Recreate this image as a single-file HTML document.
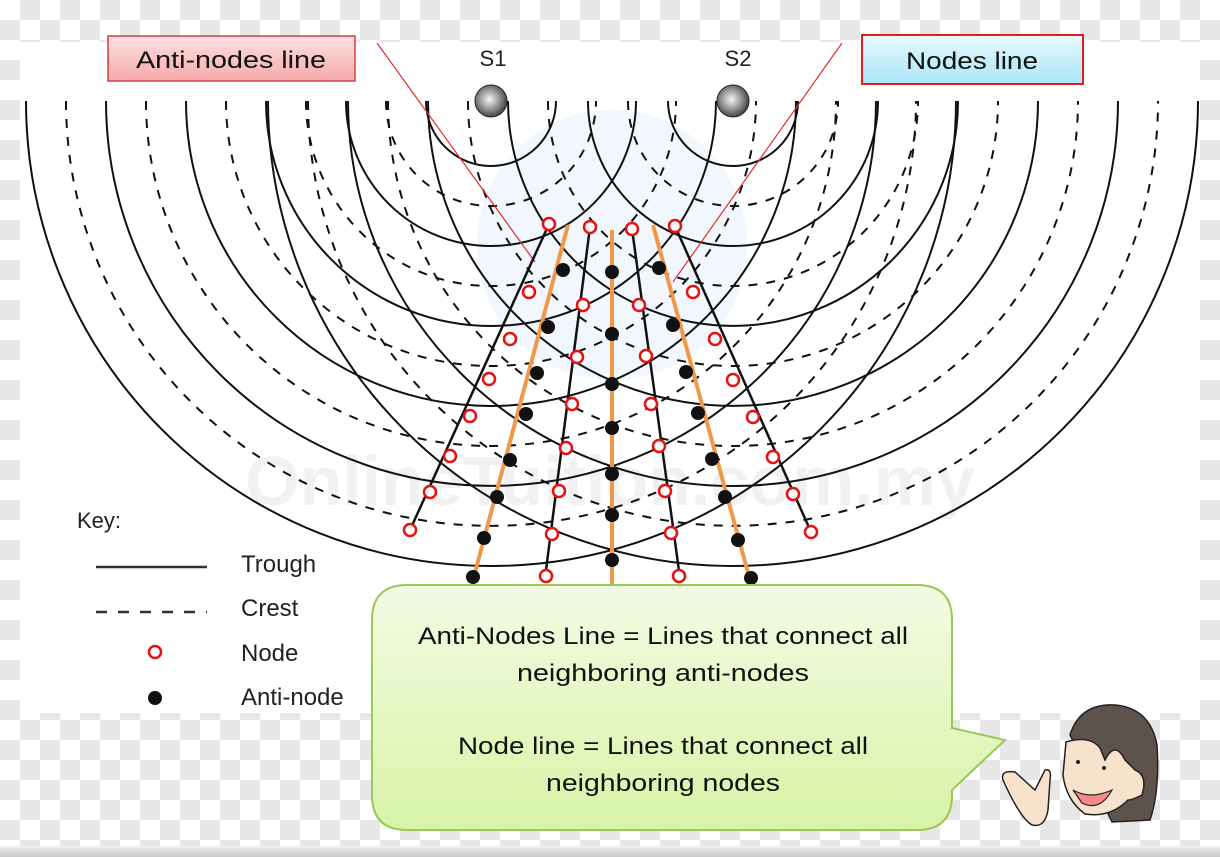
<!DOCTYPE html>
<html><head><meta charset="utf-8"><style>
html,body{margin:0;padding:0;width:1220px;height:857px;overflow:hidden;}
body{background-color:#fff;background-image:conic-gradient(#e6e7e6 25%,#fff 0 50%,#e6e7e6 0 75%,#fff 0);background-size:40px 40px;}
svg{position:absolute;left:0;top:0;}
</style></head><body>
<svg width="1220" height="857" viewBox="0 0 1220 857" xmlns="http://www.w3.org/2000/svg" font-family="Liberation Sans, sans-serif">
<defs>
<linearGradient id="pk" x1="0" y1="0" x2="0" y2="1"><stop offset="0" stop-color="#fde2e2"/><stop offset="1" stop-color="#f6a9a9"/></linearGradient>
<linearGradient id="cy" x1="0" y1="0" x2="0" y2="1"><stop offset="0" stop-color="#e8f9fd"/><stop offset="1" stop-color="#a9e6f8"/></linearGradient>
<linearGradient id="gr" x1="0" y1="0" x2="0" y2="1"><stop offset="0" stop-color="#f3fbe4"/><stop offset="1" stop-color="#d8f3a6"/></linearGradient>
<radialGradient id="ball" cx="0.45" cy="0.45" r="0.6"><stop offset="0" stop-color="#f4f4f4"/><stop offset="0.5" stop-color="#999"/><stop offset="1" stop-color="#333"/></radialGradient>
<linearGradient id="bot" x1="0" y1="0" x2="0" y2="1"><stop offset="0" stop-color="#f0f0f0"/><stop offset="1" stop-color="#c8c8c8"/></linearGradient>
</defs>
<rect x="20" y="42" width="1180" height="671" fill="#fff"/>
<rect x="0" y="846" width="1220" height="11" fill="url(#bot)"/>
<circle cx="612" cy="245" r="135" fill="#eef5fb" opacity="0.8"/>
<text x="610" y="505" font-size="70" fill="#f1f1f1" text-anchor="middle" font-weight="bold">OnlineTuition.com.my</text>
<g fill="none" stroke="#111" stroke-width="2">
<!-- S1 solid -->
<path d="M426,101A65,65 0 0 0 556,101M346,101A145,145 0 0 0 636,101M266,101A225,225 0 0 0 716,101M186,101A305,305 0 0 0 796,101M106,101A385,385 0 0 0 876,101M26,101A465,465 0 0 0 956,101"/>
<!-- S2 solid -->
<path d="M668,101A65,65 0 0 0 798,101M588,101A145,145 0 0 0 878,101M508,101A225,225 0 0 0 958,101M428,101A305,305 0 0 0 1038,101M348,101A385,385 0 0 0 1118,101M268,101A465,465 0 0 0 1198,101"/>
<g stroke-dasharray="9 9">
<path d="M386,101A105,105 0 0 0 596,101M306,101A185,185 0 0 0 676,101M226,101A265,265 0 0 0 756,101M146,101A345,345 0 0 0 836,101M66,101A425,425 0 0 0 916,101"/>
<path d="M628,101A105,105 0 0 0 838,101M548,101A185,185 0 0 0 918,101M468,101A265,265 0 0 0 998,101M388,101A345,345 0 0 0 1078,101M308,101A425,425 0 0 0 1158,101"/>
</g>
</g>
<!-- red pointer lines -->
<line x1="377" y1="43" x2="535" y2="262" stroke="#e03030" stroke-width="1.2"/>
<line x1="842" y1="43" x2="673" y2="282" stroke="#e03030" stroke-width="1.2"/>
<!-- node lines -->
<g stroke="#111" stroke-width="2.5">
<line x1="549" y1="224" x2="410" y2="530"/>
<line x1="590" y1="227" x2="545" y2="578"/>
<line x1="632" y1="229" x2="680" y2="578"/>
<line x1="675" y1="226" x2="811" y2="532"/>
</g>
<g stroke="#f0984a" stroke-width="4">
<line x1="568" y1="225" x2="473" y2="580"/>
<line x1="612" y1="230" x2="612" y2="586"/>
<line x1="653" y1="225" x2="750" y2="580"/>
</g>
<!-- anti-nodes -->
<g fill="#111">
<circle cx="563" cy="270" r="7"/><circle cx="548" cy="327" r="7"/><circle cx="537" cy="373" r="7"/><circle cx="526" cy="414" r="7"/><circle cx="510" cy="460" r="7"/><circle cx="497" cy="497" r="7"/><circle cx="484" cy="538" r="7"/><circle cx="473" cy="577" r="7"/>
<circle cx="612" cy="272" r="7"/><circle cx="612" cy="334" r="7"/><circle cx="612" cy="384" r="7"/><circle cx="612" cy="428" r="7"/><circle cx="612" cy="474" r="7"/><circle cx="612" cy="515" r="7"/><circle cx="612" cy="560" r="7"/>
<circle cx="659" cy="268" r="7"/><circle cx="673" cy="325" r="7"/><circle cx="686" cy="372" r="7"/><circle cx="698" cy="413" r="7"/><circle cx="712" cy="459" r="7"/><circle cx="725" cy="497" r="7"/><circle cx="738" cy="540" r="7"/><circle cx="751" cy="578" r="7"/>
</g>
<!-- nodes -->
<g fill="#fff" stroke="#e81010" stroke-width="2.5">
<circle cx="549" cy="224" r="6"/><circle cx="529" cy="292" r="6"/><circle cx="510" cy="339" r="6"/><circle cx="489" cy="379" r="6"/><circle cx="470" cy="416" r="6"/><circle cx="450" cy="456" r="6"/><circle cx="430" cy="492" r="6"/><circle cx="410" cy="530" r="6"/>
<circle cx="590" cy="227" r="6"/><circle cx="583" cy="305" r="6"/><circle cx="577" cy="357" r="6"/><circle cx="572" cy="404" r="6"/><circle cx="566" cy="448" r="6"/><circle cx="559" cy="491" r="6"/><circle cx="552" cy="534" r="6"/><circle cx="546" cy="576" r="6"/>
<circle cx="632" cy="229" r="6"/><circle cx="639" cy="305" r="6"/><circle cx="646" cy="356" r="6"/><circle cx="651" cy="404" r="6"/><circle cx="659" cy="446" r="6"/><circle cx="665" cy="491" r="6"/><circle cx="671" cy="533" r="6"/><circle cx="679" cy="576" r="6"/>
<circle cx="675" cy="226" r="6"/><circle cx="693" cy="292" r="6"/><circle cx="715" cy="339" r="6"/><circle cx="733" cy="380" r="6"/><circle cx="753" cy="417" r="6"/><circle cx="773" cy="457" r="6"/><circle cx="793" cy="494" r="6"/><circle cx="811" cy="532" r="6"/>
</g>
<!-- sources -->
<circle cx="491" cy="101" r="16" fill="url(#ball)" stroke="#222" stroke-width="1"/>
<circle cx="733" cy="101" r="16" fill="url(#ball)" stroke="#222" stroke-width="1"/>
<text x="493" y="66" font-size="22" text-anchor="middle" fill="#222">S1</text>
<text x="738" y="66" font-size="22" text-anchor="middle" fill="#222">S2</text>
<!-- labels -->
<rect x="108" y="36" width="247" height="45" fill="url(#pk)" stroke="#d04040" stroke-width="1.5"/>
<text x="231" y="68" font-size="24" text-anchor="middle" fill="#111" textLength="190" lengthAdjust="spacingAndGlyphs">Anti-nodes line</text>
<rect x="862" y="35" width="221" height="49" fill="url(#cy)" stroke="#e02020" stroke-width="2"/>
<text x="972" y="69" font-size="24" text-anchor="middle" fill="#111" textLength="132" lengthAdjust="spacingAndGlyphs">Nodes line</text>
<!-- key -->
<text x="77" y="528" font-size="22" fill="#222">Key:</text>
<line x1="96" y1="567" x2="207" y2="567" stroke="#333" stroke-width="2.5"/>
<line x1="96" y1="612" x2="207" y2="612" stroke="#333" stroke-width="2.5" stroke-dasharray="11 11"/>
<circle cx="155" cy="652" r="6" fill="#fff" stroke="#e81010" stroke-width="2.5"/>
<circle cx="155" cy="698" r="7" fill="#111"/>
<g font-size="24" fill="#222">
<text x="241" y="572">Trough</text>
<text x="241" y="616">Crest</text>
<text x="241" y="661">Node</text>
<text x="241" y="705">Anti-node</text>
</g>
<!-- bubble -->
<path d="M407,585 H917 Q952,585 952,620 V728 L1005,740 L952,790 V795 Q952,830 917,830 H407 Q372,830 372,795 V620 Q372,585 407,585 Z" fill="url(#gr)" stroke="#98c858" stroke-width="2"/>
<g font-size="24" fill="#111" text-anchor="middle">
<text x="663" y="644" textLength="490" lengthAdjust="spacingAndGlyphs">Anti-Nodes Line = Lines that connect all</text>
<text x="663" y="681" textLength="292" lengthAdjust="spacingAndGlyphs">neighboring anti-nodes</text>
<text x="663" y="754" textLength="410" lengthAdjust="spacingAndGlyphs">Node line = Lines that connect all</text>
<text x="663" y="791" textLength="234" lengthAdjust="spacingAndGlyphs">neighboring nodes</text>
</g>
<!-- woman -->
<path d="M1070,735 Q1080,703 1115,705 Q1150,708 1157,745 Q1160,790 1150,820 L1112,822 Z" fill="#5e534c" stroke="#222" stroke-width="1.5"/>
<path d="M1066,742 Q1090,735 1100,748 L1105,760 Q1115,740 1125,760 L1135,770 Q1148,775 1142,795 Q1132,800 1128,800 Q1110,818 1085,814 Q1066,800 1063,775 Z" fill="#f7e3cc" stroke="#222" stroke-width="1.5"/>
<path d="M1070,735 Q1090,728 1110,745 L1115,735 Q1125,745 1128,760 L1135,765 L1135,740 Q1110,712 1070,735 Z" fill="#5e534c"/>
<path d="M1073,790 Q1090,800 1112,790 Q1100,812 1082,803 Z" fill="#f48a8a" stroke="#222" stroke-width="1.2"/>
<circle cx="1078" cy="762" r="2" fill="#222"/><circle cx="1104" cy="768" r="2" fill="#222"/>
<path d="M1003,780 Q1000,770 1015,772 L1035,790 L1045,770 Q1052,768 1050,780 L1048,810 Q1045,828 1032,825 Q1020,818 1003,780 Z" fill="#f7e3cc" stroke="#222" stroke-width="1.5"/>
</svg>
</body></html>
